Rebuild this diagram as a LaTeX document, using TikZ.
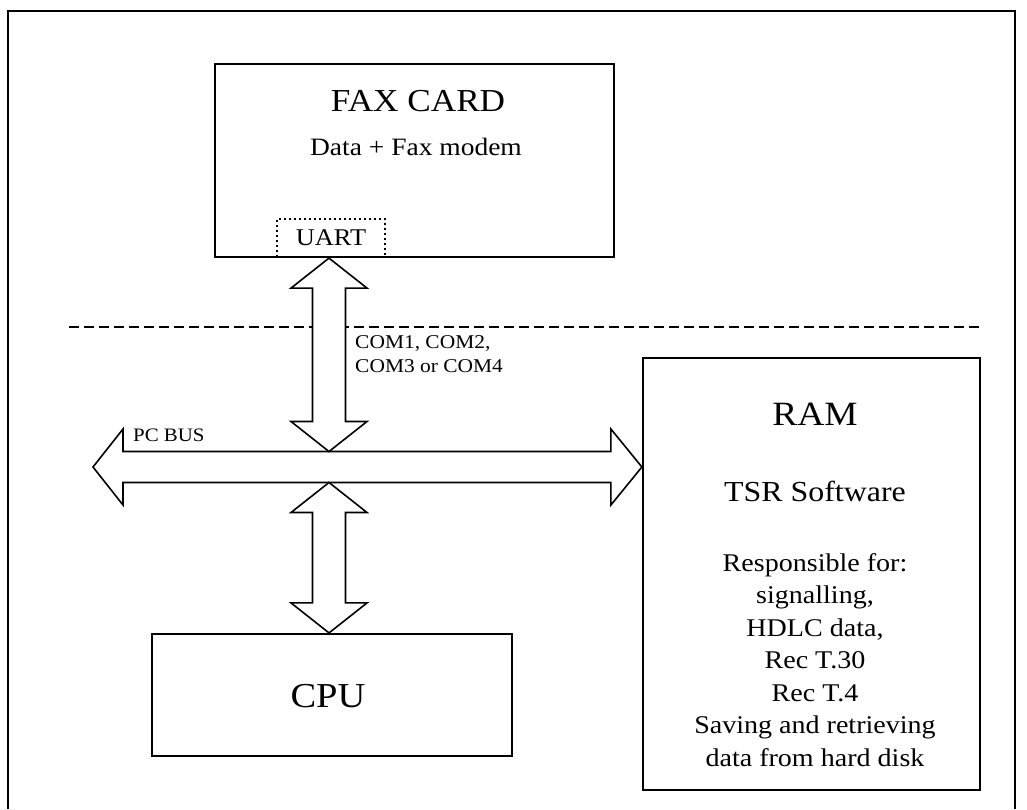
\documentclass[tikz,border=0pt]{standalone}
\usepackage{fontspec}
\setmainfont{Liberation Serif}[FakeStretch=1.1]
\usetikzlibrary{calc}

% hollow double-headed arrow running vertically between two tips
\newcommand\vbusarrow[2]{%
  \draw[busarrow] (#1) -- ($(#1)+(38,30)$) -- ($(#1)+(16.5,30)$)
    -- ($(#2)+(16.5,-30)$) -- ($(#2)+(38,-30)$) -- (#2)
    -- ($(#2)+(-38,-30)$) -- ($(#2)+(-16.5,-30)$)
    -- ($(#1)+(-16.5,30)$) -- ($(#1)+(-38,30)$) -- cycle;}

\begin{document}
\begin{tikzpicture}[x=1pt,y=-1pt,
  frame/.style={line width=1.2pt},
  unit/.style={draw, line width=2.2pt, rectangle, inner sep=0pt},
  portbox/.style={draw, line width=2pt, dash pattern=on 2pt off 3pt, rectangle, inner sep=0pt},
  busarrow/.style={draw, line width=1.6pt, line join=miter, fill=white},
  divider/.style={line width=1.8pt, dash pattern=on 10pt off 5pt},
  txt/.style={anchor=base, inner sep=0pt},
  fs/.style={font=\fontsize{#1}{#1}\selectfont}
]
\useasboundingbox (0,0) rectangle (1027,809);

% page frame
\draw[frame] (8,809) -- (8,11) -- (1015,11) -- (1015,809);

% units
\node[unit, minimum width=399pt, minimum height=193pt] (fax) at (414.5,160.5) {};
\node[portbox, minimum width=108pt, minimum height=38pt] (uart) at (331,238) {};
\node[unit, minimum width=337pt, minimum height=432pt] (ram) at (811.5,574) {};
\node[unit, minimum width=360pt, minimum height=122pt] (cpu) at (332,695) {};

% labels
\node[txt, fs=32] (faxtitle) at (418,111) {FAX CARD};
\node[txt, fs=25] (faxsub) at (416,155) {Data + Fax modem};
\node[txt, fs=24] (uartlbl) at (331,245) {UART};
\node[txt, fs=34] (ramtitle) at (815,425) {RAM};
\node[txt, fs=29] (ramsub) at (815,501) {TSR Software};
\foreach \t [count=\i from 0] in {Responsible for:, {signalling,}, {HDLC data,}, Rec T.30, Rec T.4, Saving and retrieving, data from hard disk}
  \node[txt, fs=25.5] (duty\i) at (815,571+32.5*\i) {\t};
\node[txt, fs=35] (cputitle) at (328,707) {CPU};
\node[txt, fs=19.5, anchor=base west] (com1) at (355,348) {COM1, COM2,};
\node[txt, fs=19.5, anchor=base west] (com2) at (355,372) {COM3 or COM4};
\node[txt, fs=19, anchor=base west] (pcbus) at (133,441) {PC BUS};

% boundary between card and motherboard
\coordinate (divL) at (69,327);
\coordinate (divR) at (982,327);
\draw[divider] (divL) -- (divR);

% PC bus
\coordinate (hub) at (329,467);
\coordinate (busL) at (93,467);
\coordinate (busR) at (ram.west |- hub);
\coordinate (busTop) at ($(hub)+(0,-15.5)$);
\coordinate (busBot) at ($(hub)+(0,15.5)$);
\coordinate (faxPort) at (fax.south -| hub);
\coordinate (cpuPort) at (cpu.north -| hub);

\draw[busarrow] (busL) -- ($(busL)+(30,-38)$) -- ($(busL)+(30,-15.5)$)
  -- ($(busR)+(-31,-15.5)$) -- ($(busR)+(-31,-38)$) -- (busR)
  -- ($(busR)+(-31,38)$) -- ($(busR)+(-31,15.5)$)
  -- ($(busL)+(30,15.5)$) -- ($(busL)+(30,38)$) -- cycle;

% links to the bus
\vbusarrow{faxPort}{busTop}
\vbusarrow{busBot}{cpuPort}
\end{tikzpicture}
\end{document}
